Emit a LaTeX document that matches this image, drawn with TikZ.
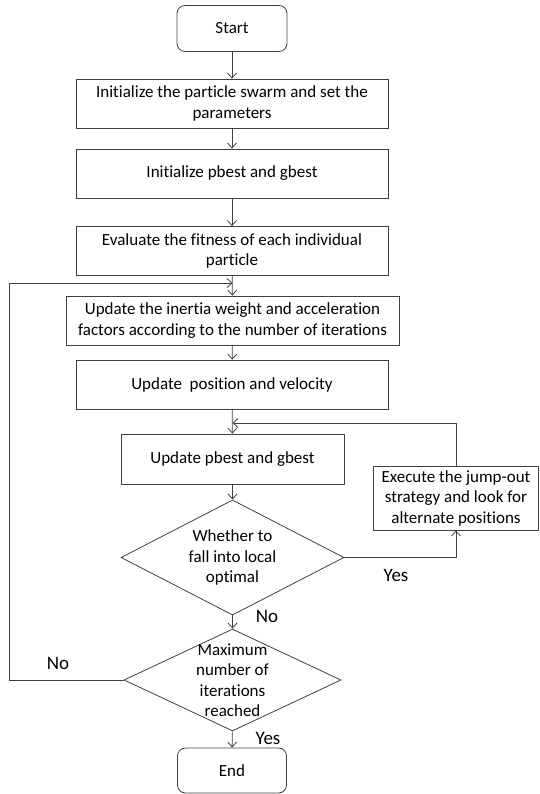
\documentclass[tikz,border=0pt]{standalone}
\usepackage{fontspec}
\setmainfont{Carlito}[Ligatures=NoCommon]
\usetikzlibrary{shapes.geometric,arrows.meta}
\begin{document}
\begin{tikzpicture}[x=1pt,y=-1pt,
    every node/.style={font=\fontsize{17}{20.5}\selectfont},
    line/.style={draw=black!75,line width=0.8pt},
    term/.style={line,rectangle,rounded corners=8pt,minimum width=110pt,minimum height=46pt},
    proc/.style={line,rectangle,align=center,minimum width=312pt,minimum height=49pt},
    test/.style={line,diamond,align=center,inner xsep=0pt},
    lbl/.style={font=\fontsize{19}{22}\selectfont},
    >={Straight Barb[length=5pt,width=9pt]}]
  \useasboundingbox (0,0) rectangle (539,794);
  \node[term] (start) at (232,28.5) {Start};
  \node[proc] (init) at (232,103.5) {Initialize the particle swarm and set the\\parameters};
  \node[proc] (initbest) at (232,173.5) {Initialize pbest and gbest};
  \node[proc] (eval) at (232,251) {Evaluate the fitness of each individual\\particle};
  \node[proc,minimum width=333pt] (inertia) at (232.5,320.5) {Update the inertia weight and acceleration\\factors according to the number of iterations};
  \node[proc] (move) at (232,384.5) {Update\ \ position and velocity};
  \node[proc,minimum width=223pt,minimum height=50pt] (best) at (232.5,459) {Update pbest and gbest};
  \node[line,rectangle,align=center,minimum width=165pt,minimum height=64pt] (jump) at (456,498)
    {Execute the jump-out\\strategy and look for\\alternate positions};
  \node[test,inner ysep=-14pt,minimum width=223pt,minimum height=89pt] (local) at (232.5,557.5) {Whether to\\fall into local\\optimal};
  \node[test,inner ysep=-24pt,minimum width=217pt,minimum height=102pt] (maxit) at (232.5,680) {Maximum\\number of\\iterations\\reached};
  \node[term,minimum width=109pt,minimum height=45pt] (end) at (232,770.5) {End};
  \coordinate (loopin) at (232.5,283);
  \coordinate (loopl) at (9,283);
  \coordinate (jumpin) at (232.5,423);
  \node[lbl] (yes1) at (396,575) {Yes};
  \node[lbl] (no1) at (267,616) {No};
  \node[lbl] (no2) at (58,663) {No};
  \node[lbl] (yes2) at (268,738) {Yes};
  \begin{scope}[line,->]
    \draw (start) -- (init);
    \draw (init) -- (initbest);
    \draw (initbest) -- (eval);
    \draw (eval) -- (inertia);
    \draw (inertia) -- (move);
    \draw (move) -- (best);
    \draw (best) -- (local);
    \draw (local) -- (maxit);
    \draw (maxit) -- (end);
    \draw (local.east) -| (jump.south);
    \draw (jump.north) |- (jumpin);
    \draw (maxit.west) -| (loopl) -- (loopin);
  \end{scope}
\end{tikzpicture}
\end{document}
